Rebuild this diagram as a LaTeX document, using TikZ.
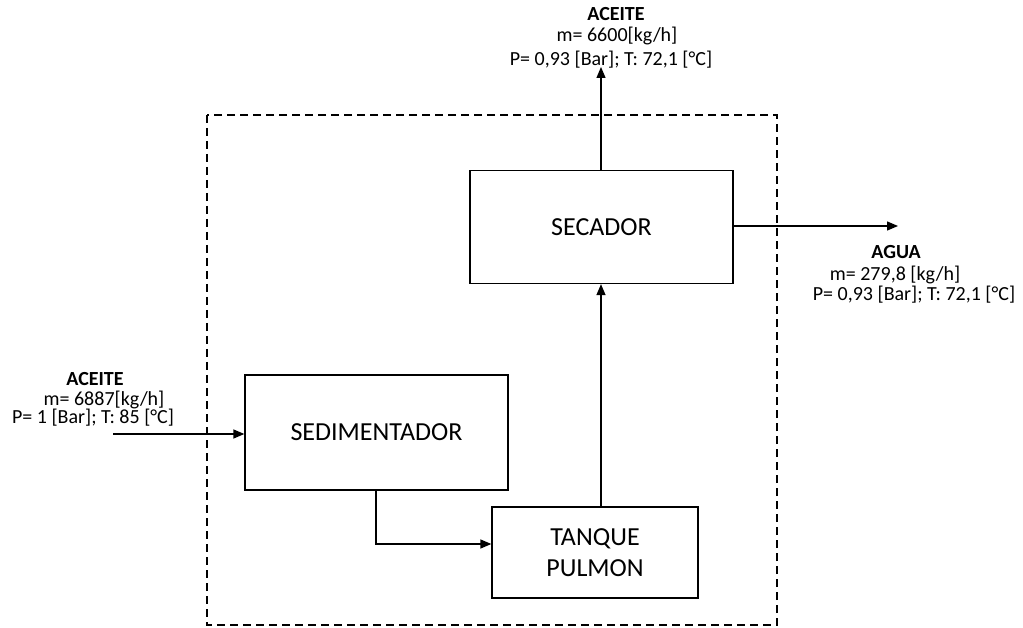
\documentclass[tikz,border=0pt]{standalone}
\usepackage{fontspec}
\setmainfont{Carlito}
\usetikzlibrary{arrows.meta}
\begin{document}
\begin{tikzpicture}[x=1pt,y=-1pt,
  unit/.style={draw,line width=1.3pt,minimum width=263pt,minimum height=113pt,font=\fontsize{26}{31}\selectfont,align=center,inner sep=0pt},
  flow/.style={line width=1.3pt,-{Triangle[length=11pt,width=9pt]}},
  lbl/.style={font=\fontsize{20}{23}\selectfont,inner sep=0pt,anchor=base},
  bl/.style={lbl,font=\fontsize{20}{23}\selectfont\bfseries}]
\useasboundingbox (0,0) rectangle (1023,628);
\draw[line width=1.1pt,dash pattern=on 8pt off 5pt] (207,115) rectangle (777,625);
\node[unit] (sec) at (601.5,227) {SECADOR};
\node[unit,minimum height=115pt] (sed) at (376.5,432.5) {SEDIMENTADOR};
\node[unit,minimum width=206pt,minimum height=91pt] (tan) at (595,552.5) {TANQUE\\PULMON};
\coordinate (inl) at (113,434);
\coordinate (top) at (601,67);
\coordinate (rgt) at (898,226);
\draw[flow] (inl) -- (inl -| sed.west);
\draw[flow] (sed.south -| 376,0) |- (tan.west |- 0,544);
\draw[flow] (tan.north -| 601,0) -- (sec.south -| 601,0);
\draw[flow] (sec.north -| 601,0) -- (top);
\draw[flow] (sec.east |- rgt) -- (rgt);
\node[bl] (t1) at (616,21) {ACEITE};
\node[lbl] (t2) at (617,42) {m= 6600[kg/h]};
\node[lbl] (t3) at (611,66) {P= 0,93 [Bar]; T: 72,1 [°C]};
\node[bl] (a1) at (896,259) {AGUA};
\node[lbl] (a2) at (895,281) {m= 279,8 [kg/h]};
\node[lbl] (a3) at (914,301) {P= 0,93 [Bar]; T: 72,1 [°C]};
\node[bl] (l1) at (95,385) {ACEITE};
\node[lbl] (l2) at (104,405) {m= 6887[kg/h]};
\node[lbl] (l3) at (93,423) {P= 1 [Bar]; T: 85 [°C]};
\end{tikzpicture}
\end{document}
